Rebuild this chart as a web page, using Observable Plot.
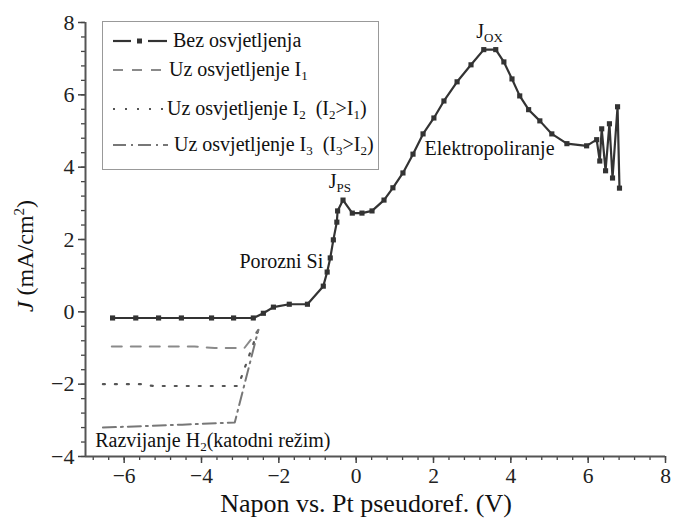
<!DOCTYPE html>
<html>
<head>
<meta charset="utf-8">
<script src="https://cdn.jsdelivr.net/npm/d3@7"></script>
<script src="https://cdn.jsdelivr.net/npm/@observablehq/plot@0.6"></script>
<style>
  body { margin: 0; background: white; }
  svg text { white-space: pre; font-family: 'Liberation Serif', 'Times New Roman', serif !important; }
</style>
</head>
<body>
<div id="chart"></div>
<script>
// Dark curve: no illumination
const darkV = [-6.30, -5.70, -5.11, -4.52, -3.74, -3.17, -2.66, -2.40, -2.14, -1.73, -1.26, -0.85, -0.75, -0.67, -0.59, -0.50, -0.48, -0.34, -0.10, 0.15, 0.41, 0.72, 0.95, 1.21, 1.47, 1.73, 2.01, 2.27, 2.61, 2.97, 3.30, 3.61, 3.82, 4.03, 4.23, 4.46, 4.75, 5.06, 5.45, 5.96, 6.22, 6.30, 6.35, 6.45, 6.55, 6.63, 6.76, 6.81];
const darkJ = [-0.17, -0.17, -0.17, -0.17, -0.17, -0.17, -0.17, -0.04, 0.13, 0.21, 0.21, 0.71, 1.10, 1.49, 1.99, 2.48, 2.79, 3.09, 2.73, 2.73, 2.79, 3.09, 3.43, 3.84, 4.36, 4.92, 5.36, 5.83, 6.36, 6.83, 7.25, 7.25, 6.91, 6.44, 5.97, 5.59, 5.28, 4.92, 4.65, 4.59, 4.76, 4.17, 5.06, 3.90, 5.20, 3.70, 5.67, 3.42];
// Illumination I1 (dashed)
const i1V = [-6.32, -4.18, -3.66, -2.89, -2.53];
const i1J = [-0.96, -0.96, -1.00, -1.00, -0.50];
// Illumination I2 (dotted)
const i2V = [-6.55, -5.55, -5.25, -3.05, -2.53];
const i2J = [-2.00, -2.00, -2.05, -2.05, -0.50];
// Illumination I3 (dash-dot)
const i3V = [-6.55, -4.50, -3.14, -2.53];
const i3J = [-3.20, -3.12, -3.06, -0.50];

const seriesNames = ["Bez osvjetljenja", "Uz osvjetljenje I_{1}", "Uz osvjetljenje I_{2}  (I_{2}>I_{1})", "Uz osvjetljenje I_{3}  (I_{3}>I_{2})"];
const xTicks = [-6, -4, -2, 0, 2, 4, 6, 8];
const yTicks = [-4, -2, 0, 2, 4, 6, 8];
const annLabels = ["J_{PS}", "Porozni Si", "J_{OX}", "Elektropoliranje", "Razvijanje H_{2}(katodni režim)"];
const annV = [-0.42, -0.85, 3.45, 3.45, -6.75];
const annJ = [3.6, 1.40, 7.75, 4.5, -3.55];
const annAnchor = ["middle", "end", "middle", "middle", "start"];

const xLabel = "Napon vs. Pt pseudoref. (V)";

const dark = darkV.map((v, i) => ({v, j: darkJ[i]}));
const s1 = i1V.map((v, i) => ({v, j: i1J[i]}));
const s2 = i2V.map((v, i) => ({v, j: i2J[i]}));
const s3 = i3V.map((v, i) => ({v, j: i3J[i]}));
const ann = annLabels.map((t, i) => ({t, v: annV[i], j: annJ[i], a: annAnchor[i]}));

const minorX = d3.range(-6.8, 8.001, 0.4).map(d => +d.toFixed(2));
const minorY = d3.range(-4, 8.001, 0.4).map(d => +d.toFixed(2));
const fmt = d => d < 0 ? "\u2212" + Math.abs(d) : String(d);

const font = "'Liberation Serif', 'Times New Roman', serif";

const annMark = (anchor) => Plot.text(ann.filter(d => d.a === anchor),
  {x: "v", y: "j", text: "t", textAnchor: anchor, fontSize: 20, fill: "#111"});

const plot = Plot.plot({
  width: 673,
  height: 521,
  marginLeft: 85,
  marginRight: 8,
  marginTop: 22,
  marginBottom: 65,
  x: {domain: [-7, 8]},
  y: {domain: [-4, 8]},
  style: {fontFamily: font, background: "white", color: "#222"},
  marks: [
    Plot.axisX(minorX, {tickSize: 4, tickFormat: () => "", stroke: "#444", strokeWidth: 1.3, label: null}),
    Plot.axisY(minorY, {tickSize: 4, tickFormat: () => "", stroke: "#444", strokeWidth: 1.3, label: null}),
    Plot.axisX(xTicks, {tickSize: 7, tickPadding: 4, tickFormat: fmt, fontSize: 21.5, stroke: "#444", strokeWidth: 1.5, label: null}),
    Plot.axisY(yTicks, {tickSize: 7, tickPadding: 4, tickFormat: fmt, fontSize: 22, stroke: "#444", strokeWidth: 1.5, label: null}),
    Plot.ruleX([-7], {stroke: "#555", strokeWidth: 2}),
    Plot.ruleY([-4], {stroke: "#555", strokeWidth: 2}),
    Plot.line(s1, {x: "v", y: "j", stroke: "#8a8a8a", strokeWidth: 2, strokeDasharray: "10,9"}),
    Plot.line(s2, {x: "v", y: "j", stroke: "#555", strokeWidth: 2.2, strokeDasharray: "2,10"}),
    Plot.line(s3, {x: "v", y: "j", stroke: "#777", strokeWidth: 2, strokeDasharray: "13,5,2,5"}),
    Plot.line(dark, {x: "v", y: "j", stroke: "#333", strokeWidth: 2.2}),
    Plot.dot(dark, {x: "v", y: "j", symbol: "square", r: 2.9, fill: "#333", stroke: "none"}),
    annMark("middle"),
    annMark("end"),
    annMark("start")
  ]
});

// Render subscripts in text "X_{sub}"
function richify(el, base) {
  const s = el.textContent;
  if (!/_\{/.test(s)) return;
  el.textContent = "";
  const re = /_\{([^}]*)\}/g;
  let last = 0, m, prevSub = false;
  const sh = base * 0.22;
  while ((m = re.exec(s))) {
    if (m.index > last) {
      const t = d3.select(el).append("tspan").text(s.slice(last, m.index));
      if (prevSub) t.attr("dy", -sh);
      prevSub = false;
    }
    const t = d3.select(el).append("tspan").text(m[1]).attr("font-size", base * 0.65);
    if (!prevSub) t.attr("dy", sh);
    prevSub = true;
    last = re.lastIndex;
  }
  if (last < s.length) {
    const t = d3.select(el).append("tspan").text(s.slice(last));
    if (prevSub) t.attr("dy", -sh);
  }
}

const svg = d3.select(plot);
svg.selectAll("text").each(function() { richify(this, 20); });

// Legend (inside plot area, top-left)
const lg = svg.append("g").attr("text-anchor", "start");
lg.append("rect").attr("x", 102.5).attr("y", 21.5).attr("width", 276).attr("height", 148)
  .attr("fill", "white").attr("stroke", "#999").attr("stroke-width", 1);
const rowsY = [41, 70, 109, 145];
const textX = [173, 169, 167, 174];
const lineEnd = [167, 164, 165, 168];
const styles = [
  {stroke: "#333", dash: null, w: 2.2},
  {stroke: "#8a8a8a", dash: "10,9", w: 2},
  {stroke: "#555", dash: "2,10", w: 2.2},
  {stroke: "#777", dash: "13,5,2,5", w: 2}
];
seriesNames.forEach((name, i) => {
  const y = rowsY[i];
  const st = styles[i];
  if (i === 0) {
    lg.append("line").attr("x1", 113).attr("x2", 131).attr("y1", y).attr("y2", y).attr("stroke", st.stroke).attr("stroke-width", st.w);
    lg.append("rect").attr("x", 137).attr("y", y - 2.5).attr("width", 5).attr("height", 5).attr("fill", "#333");
    lg.append("line").attr("x1", 148).attr("x2", lineEnd[i]).attr("y1", y).attr("y2", y).attr("stroke", st.stroke).attr("stroke-width", st.w);
  } else {
    lg.append("line").attr("x1", 113).attr("x2", lineEnd[i]).attr("y1", y).attr("y2", y)
      .attr("stroke", st.stroke).attr("stroke-width", st.w).attr("stroke-dasharray", st.dash);
  }
  const t = lg.append("text").attr("x", textX[i]).attr("y", y + 6).attr("text-anchor", "start")
    .attr("font-size", 20).attr("fill", "#111").text(name);
  richify(t.node(), 20);
});

// Axis titles
svg.append("text").attr("x", 366).attr("y", 512).attr("text-anchor", "middle")
  .attr("font-size", 26).attr("fill", "#111").text(xLabel);
const yl = svg.append("text").attr("transform", "translate(33,256) rotate(-90)")
  .attr("text-anchor", "middle").attr("font-size", 24).attr("fill", "#111");
yl.append("tspan").attr("font-style", "italic").text("J");
yl.append("tspan").text(" (mA/cm");
yl.append("tspan").attr("font-size", 15).attr("dy", -9).text("2");
yl.append("tspan").attr("dy", 9).text(")");

document.getElementById("chart").appendChild(plot);
</script>
</body>
</html>
